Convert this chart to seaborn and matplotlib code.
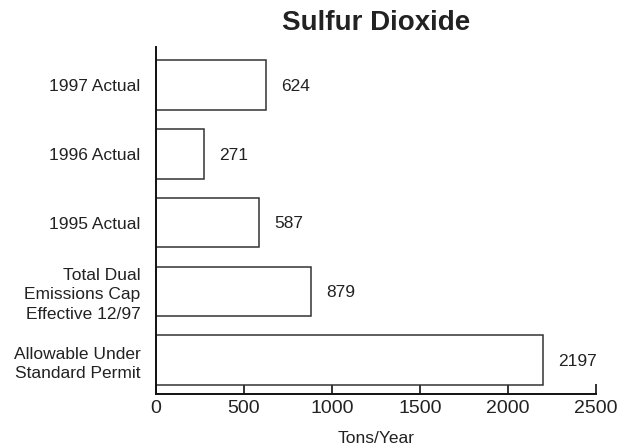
import matplotlib
matplotlib.use("Agg")
import matplotlib.pyplot as plt
import seaborn as sns
import pandas as pd

categories = ["1997 Actual", "1996 Actual", "1995 Actual",
              "Total Dual\nEmissions Cap\nEffective 12/97",
              "Allowable Under\nStandard Permit"]
values = [624, 271, 587, 879, 2197]
xticks = [0, 500, 1000, 1500, 2000, 2500]

sns.set_style("white")
plt.rcParams["font.family"] = ["Liberation Sans", "DejaVu Sans"]

df = pd.DataFrame({"source": categories, "tons": values})

fig = plt.figure(figsize=(6.33, 4.46), dpi=100)
ax = fig.add_axes([0.2464, 0.1166, 0.695, 0.778])

sns.barplot(data=df, x="tons", y="source", orient="h", color="white",
            edgecolor="#333333", linewidth=1.1, width=0.72, ax=ax)

for i, v in enumerate(values):
    ax.annotate(str(v), (v, i), xytext=(11, -1), textcoords="offset points",
                ha="left", va="center", fontsize=12.5, color="#222222")

ax.set_xlim(0, 2500)
ax.set_ylim(4.49, -0.55)
ax.set_xticks(xticks)
ax.set_xticklabels([str(t) for t in xticks], fontsize=14)
ax.set_yticks(range(len(categories)))
ax.set_yticklabels(categories, fontsize=12.5, linespacing=1.34)
ax.tick_params(axis="x", bottom=True, direction="in", length=7, width=1.3,
               pad=4.5, colors="#222222")
ax.tick_params(axis="y", left=False, length=0, pad=11, colors="#222222")
ax.set_xlabel("Tons/Year", fontsize=12.5, labelpad=10, color="#222222")
ax.set_ylabel("")
ax.set_title("Sulfur Dioxide", fontsize=20, fontweight="bold", pad=12,
             color="#222222")

sns.despine(ax=ax, top=True, right=True)
for s in ["left", "bottom"]:
    ax.spines[s].set_linewidth(1.4)
    ax.spines[s].set_color("#111111")

fig.savefig("out.png", dpi=100)
